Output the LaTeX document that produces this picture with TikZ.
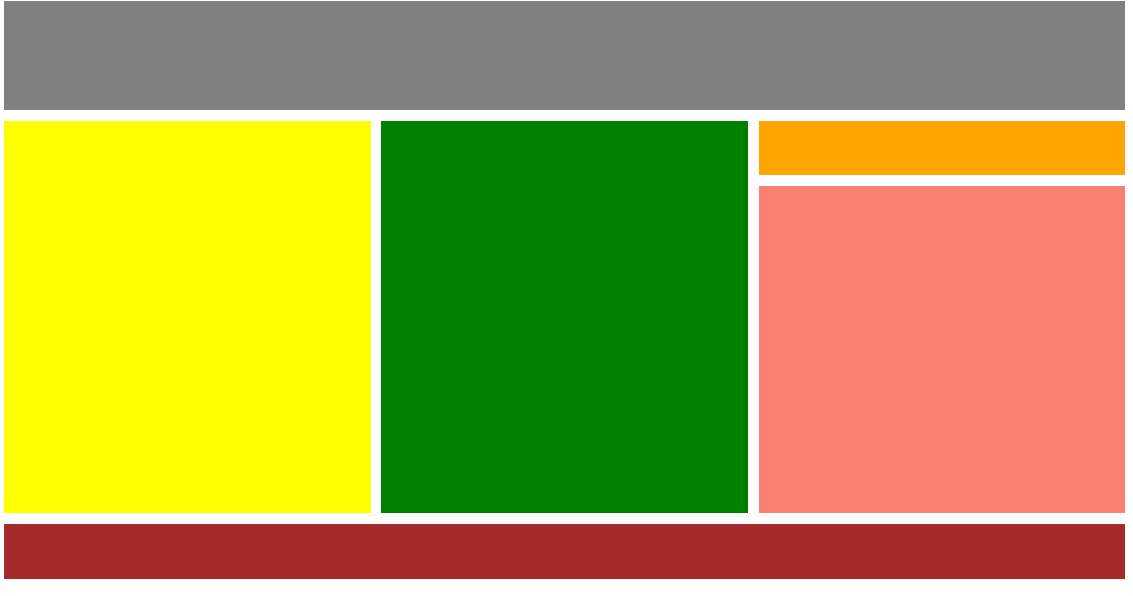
\documentclass[tikz,border=0pt]{standalone}
\definecolor{grayblock}{RGB}{128,128,128}
\definecolor{yellowblock}{RGB}{255,255,0}
\definecolor{greenblock}{RGB}{0,128,0}
\definecolor{orangeblock}{RGB}{255,165,0}
\definecolor{salmonblock}{RGB}{250,128,114}
\definecolor{brownblock}{RGB}{165,42,42}
\tikzset{block/.style={draw=none}}
\begin{document}
\begin{tikzpicture}[x=1pt,y=-1pt]
\useasboundingbox (0,0) rectangle (1133,595);
\fill[block,grayblock]   (4,1)     rectangle (1125,110);
\fill[block,yellowblock] (4,121)   rectangle (371,513);
\fill[block,greenblock]  (381,121) rectangle (748,513);
\fill[block,orangeblock] (759,121) rectangle (1125,175);
\fill[block,salmonblock] (759,186) rectangle (1125,513);
\fill[block,brownblock]  (4,524)   rectangle (1125,579);
\end{tikzpicture}
\end{document}
